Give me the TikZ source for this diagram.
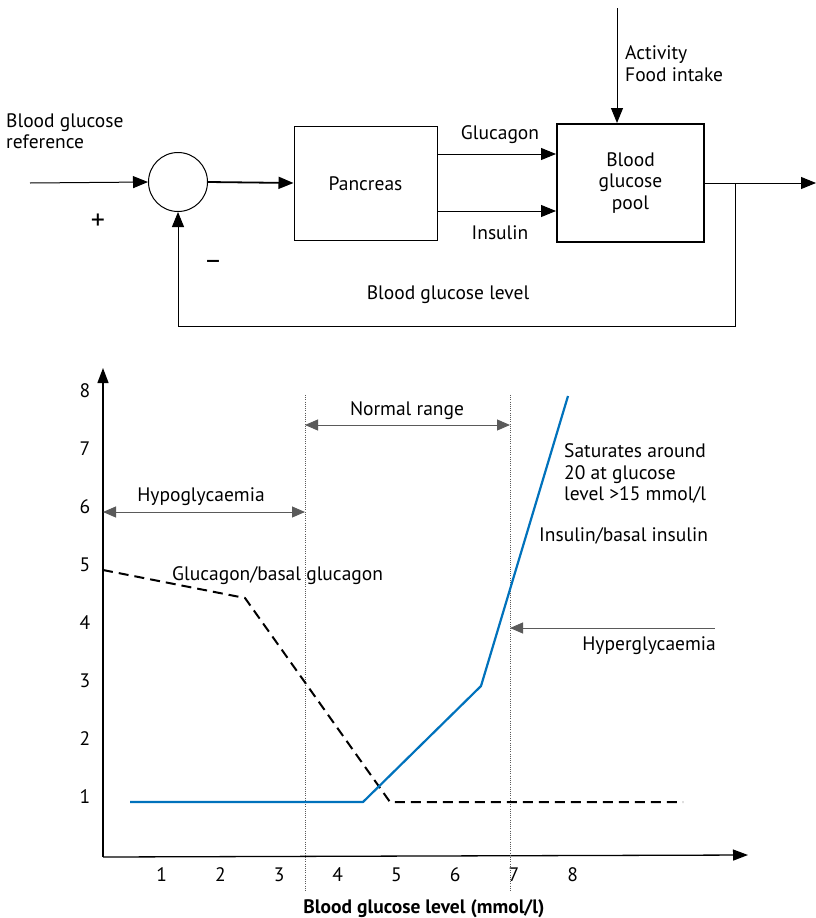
\documentclass[tikz,border=0pt]{standalone}
\usepackage{fontspec}
\setmainfont{PT Sans}
\usetikzlibrary{arrows.meta}
\definecolor{curveblue}{RGB}{0,114,188}
\definecolor{guide}{RGB}{90,90,90}
\tikzset{
  txt/.style={inner sep=0pt, font=\fontsize{19.5}{21.5}\selectfont},
  lbl/.style={txt, anchor=base},
  lblw/.style={txt, anchor=base west},
  sign/.style={inner sep=0pt, font=\fontsize{28}{30}\selectfont},
  block/.style={draw, line width=1pt, inner sep=0pt},
  sig/.style={line width=1pt, -{Triangle[length=15pt,width=12pt]}},
  axis/.style={line width=1.3pt, -{Triangle[length=15pt,width=11pt]}},
  span/.style={draw=guide, line width=1pt, {Triangle[length=13pt,width=11pt]}-{Triangle[length=13pt,width=11pt]}},
  pointer/.style={draw=guide, line width=1pt, {Triangle[length=13pt,width=11pt]}-},
  bound/.style={draw=guide, line width=0.6pt, dash pattern=on 1pt off 1.2pt},
  glucurve/.style={line width=2pt, dash pattern=on 10pt off 6pt},
  inscurve/.style={draw=curveblue, line width=2.2pt, line join=round}
}
\begin{document}
\begin{tikzpicture}[x=1pt,y=-1pt]
\useasboundingbox (0,0) rectangle (816,918);

% ---------- feedback loop ----------
\node[block, circle, minimum size=59pt] (sum) at (178,182) {};
\node[block, minimum width=143pt, minimum height=114pt] (pan) at (365.5,183) {};
\node[lbl] at (365.5,190) {Pancreas};
\node[block, line width=2pt, minimum width=147pt, minimum height=118pt] (pool) at (630.5,183) {};
\node[txt, align=center] at (pool.center) {Blood\\glucose\\pool};

\coordinate (ref) at (30,183);
\coordinate (out) at (816,183);
\coordinate (tap) at (735,183);
\coordinate (act) at (617,8);

\draw[sig] (ref) -- (sum.west);
\draw[sig, line width=1.8pt] (sum.east) -- (pan.west);
\draw[sig] (pan.east |- 0,154) -- (pool.west |- 0,154);
\draw[sig] (pan.east |- 0,211) -- (pool.west |- 0,211);
\draw[sig] (pool.east) -- (out);
\draw[sig] (act) -- (act |- pool.north);
\draw[sig] (tap) -- (735,326) -| (sum.south);

\node[lblw] at (6,127) {Blood glucose};
\node[lblw] at (6,148) {reference};
\node[sign] at (98,222) {+};
\node[sign] at (213,265) {–};
\node[lbl] at (500,139) {Glucagon};
\node[lbl] at (500,239) {Insulin};
\node[lblw] at (625,59) {Activity};
\node[lblw] at (625,81) {Food intake};
\node[lbl] at (448,299) {Blood glucose level};

% ---------- response curves ----------
\coordinate (O) at (103,857);
\coordinate (ytop) at (103,368);
\coordinate (xend) at (748,855);
\draw[axis] (O) -- (ytop);
\draw[axis] (O) -- (xend);

\foreach \v in {1,...,8} {
  \node[lbl] (yl\v) at (85,{861-58*\v}) {\v};
  \node[lbl] (xl\v) at ({103+58.7*\v},881) {\v};
}

\draw[bound] (305,395) -- (305,892);
\draw[bound] (510,395) -- (510,892);

\draw[span] (305,425) -- (510,425);
\node[lbl] at (407,415) {Normal range};
\draw[span] (103,512) -- (305,512);
\node[lbl] at (201,501) {Hypoglycaemia};

\draw[glucurve] (103,570) -- (245,598) -- (390,802) -- (683,802);
\draw[inscurve] (130,802) -- (363,802) -- (481,686) -- (568,396);

\node[lblw] at (172,580) {Glucagon/basal glucagon};
\node[lblw] at (564,457) {Saturates around};
\node[lblw] at (564,479) {20 at glucose};
\node[lblw] at (564,500) {level >15 mmol/l};
\node[lblw] at (539,541) {Insulin/basal insulin};

\coordinate (hyp) at (715,628);
\draw[pointer] (510,628) -- (hyp);
\node[txt, anchor=base east] at (716,650) {Hyperglycaemia};

\node[lbl, font=\fontsize{19.5}{21.5}\selectfont\bfseries] at (424,913) {Blood glucose level (mmol/l)};
\end{tikzpicture}
\end{document}
